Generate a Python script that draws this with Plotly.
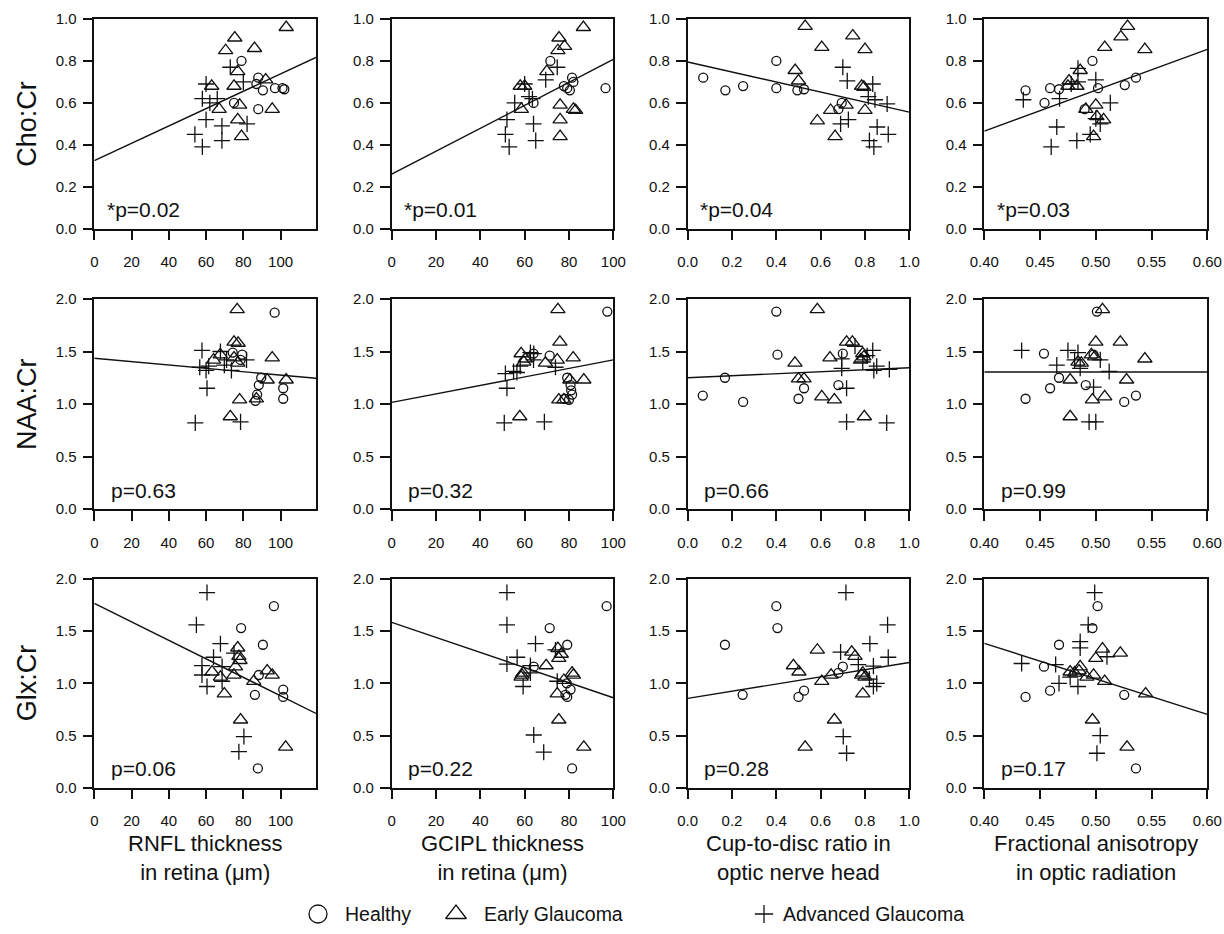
import plotly.graph_objects as go

# ---------------- data ----------------
ROW_NAMES = ["Cho:Cr", "NAA:Cr", "Glx:Cr"]
COL_TITLES = ["RNFL thickness<br>in retina (μm)", "GCIPL thickness<br>in retina (μm)",
              "Cup-to-disc ratio in<br>optic nerve head", "Fractional anisotropy<br>in optic radiation"]
GROUPS = ["Healthy", "Early Glaucoma", "Advanced Glaucoma"]
P_LABELS = [["*p=0.02", "*p=0.01", "*p=0.04", "*p=0.03"],
            ["p=0.63", "p=0.32", "p=0.66", "p=0.99"],
            ["p=0.06", "p=0.22", "p=0.28", "p=0.17"]]
FIT_INTERCEPT = [[0.325, 0.26, 0.795, -0.315],
                 [1.435, 1.015, 1.25, 1.305],
                 [1.767, 1.585, 0.856, 2.743]]
FIT_SLOPE = [[0.00413, 0.00547, -0.239, 1.95],
             [-0.0016, 0.00405, 0.095, 0.0],
             [-0.00887, -0.00723, 0.344, -3.40]]
X_RANGES = [[0, 119], [0, 100], [0, 1.0], [0.40, 0.60]]
Y_RANGES = [[0, 1.0], [0, 2.0], [0, 2.0]]
X_TICKS = [[0, 20, 40, 60, 80, 100], [0, 20, 40, 60, 80, 100],
           [0.0, 0.2, 0.4, 0.6, 0.8, 1.0], [0.40, 0.45, 0.50, 0.55, 0.60]]
X_FORMATS = ["d", "d", ".1f", ".2f"]
Y_TICKS = [[0.0, 0.2, 0.4, 0.6, 0.8, 1.0], [0.0, 0.5, 1.0, 1.5, 2.0], [0.0, 0.5, 1.0, 1.5, 2.0]]

# Row 1: Cho:Cr
CHO_RNFL_HEALTHY = [(79, 0.80), (88, 0.72), (87, 0.69), (90.5, 0.66), (97, 0.67), (101, 0.67),
                    (102, 0.665), (88, 0.57), (75, 0.60)]
CHO_RNFL_EARLY = [(103, 0.96), (75.4, 0.91), (70.5, 0.85), (86, 0.86), (77, 0.75), (63, 0.68),
                  (75, 0.68), (92, 0.71), (67, 0.57), (78, 0.59), (95.5, 0.57), (77, 0.52), (79, 0.44)]
CHO_RNFL_ADVANCED = [(73, 0.77), (60, 0.69), (80, 0.70), (58, 0.62), (66, 0.62), (62, 0.60),
                     (60, 0.52), (68.5, 0.49), (82, 0.50), (54, 0.45), (68.5, 0.42), (58, 0.39)]

CHO_GCIPL_HEALTHY = [(71.6, 0.80), (64, 0.60), (77.7, 0.68), (81.4, 0.72), (79.2, 0.67),
                     (80.4, 0.66), (82, 0.70), (96.5, 0.67)]
CHO_GCIPL_EARLY = [(86.5, 0.96), (75.5, 0.91), (78, 0.87), (75, 0.85), (70, 0.75), (58, 0.68),
                   (60, 0.68), (58.5, 0.57), (76, 0.59), (76, 0.52), (82, 0.57), (83, 0.565), (76, 0.44)]
CHO_GCIPL_ADVANCED = [(74.7, 0.77), (69.5, 0.71), (60, 0.69), (62, 0.63), (63.5, 0.62), (55.5, 0.60),
                      (52, 0.52), (64, 0.50), (51.3, 0.45), (65, 0.42), (53, 0.39)]

CHO_CDR_HEALTHY = [(0.07, 0.72), (0.17, 0.66), (0.25, 0.68), (0.40, 0.80), (0.40, 0.67),
                   (0.495, 0.66), (0.525, 0.665), (0.68, 0.57), (0.695, 0.60)]
CHO_CDR_EARLY = [(0.53, 0.965), (0.605, 0.865), (0.745, 0.92), (0.80, 0.855), (0.485, 0.755),
                 (0.50, 0.705), (0.785, 0.68), (0.795, 0.675), (0.645, 0.565), (0.715, 0.59),
                 (0.80, 0.565), (0.585, 0.515), (0.665, 0.44)]
CHO_CDR_ADVANCED = [(0.70, 0.77), (0.72, 0.705), (0.835, 0.69), (0.815, 0.63), (0.845, 0.615),
                    (0.90, 0.595), (0.725, 0.52), (0.69, 0.50), (0.855, 0.485), (0.905, 0.45),
                    (0.82, 0.42), (0.84, 0.39)]

CHO_FA_HEALTHY = [(0.437, 0.66), (0.454, 0.60), (0.459, 0.67), (0.467, 0.665), (0.497, 0.80),
                  (0.502, 0.67), (0.49, 0.57), (0.526, 0.685), (0.536, 0.72)]
CHO_FA_EARLY = [(0.5285, 0.965), (0.5225, 0.915), (0.508, 0.865), (0.544, 0.855), (0.486, 0.755),
                (0.476, 0.705), (0.475, 0.68), (0.483, 0.68), (0.50, 0.59), (0.491, 0.57),
                (0.501, 0.535), (0.507, 0.52), (0.498, 0.44)]
CHO_FA_ADVANCED = [(0.435, 0.615), (0.465, 0.485), (0.46, 0.39), (0.4675, 0.62), (0.484, 0.765),
                   (0.478, 0.69), (0.484, 0.70), (0.50, 0.71), (0.513, 0.60), (0.483, 0.42),
                   (0.495, 0.45), (0.50, 0.525), (0.504, 0.50)]

# Row 2: NAA:Cr
NAA_RNFL_HEALTHY = [(96.8, 1.87), (74.3, 1.49), (79.4, 1.47), (78.5, 1.42), (89.6, 1.25),
                    (88.3, 1.18), (87.4, 1.09), (86.5, 1.03), (101.4, 1.15), (101.4, 1.05)]
NAA_RNFL_EARLY = [(76.7, 1.90), (75, 1.59), (77.2, 1.58), (95.5, 1.44), (103, 1.23), (92.8, 1.23),
                  (78, 1.04), (87, 1.05), (73, 0.88), (64, 1.42), (67.6, 1.47), (77, 1.39), (75, 1.44)]
NAA_RNFL_ADVANCED = [(57.8, 1.51), (67.7, 1.50), (56.6, 1.35), (61.4, 1.36), (60, 1.32),
                     (69.8, 1.37), (73.6, 1.32), (81.7, 1.42), (60.5, 1.15), (54.2, 0.82),
                     (78.5, 0.83), (71, 1.42)]

NAA_GCIPL_HEALTHY = [(97.3, 1.88), (71.3, 1.46), (79.2, 1.25), (80.7, 1.18), (81.4, 1.09),
                     (80, 1.04), (78, 1.05), (64, 1.48), (81, 1.13)]
NAA_GCIPL_EARLY = [(75, 1.90), (75.9, 1.59), (58.4, 1.48), (60.3, 1.43), (59.6, 1.40), (69.4, 1.39),
                   (74.7, 1.42), (81.9, 1.44), (86.7, 1.23), (80.4, 1.23), (75.4, 1.04),
                   (77.7, 1.04), (57.8, 0.88)]
NAA_GCIPL_ADVANCED = [(51.3, 1.29), (55, 1.31), (52, 1.15), (50.8, 0.82), (68.9, 0.83),
                      (62.6, 1.49), (64.1, 1.48), (58, 1.36), (64, 1.42), (73.9, 1.35), (56.5, 1.30)]

NAA_CDR_HEALTHY = [(0.068, 1.08), (0.168, 1.25), (0.25, 1.02), (0.40, 1.88), (0.405, 1.47),
                   (0.50, 1.05), (0.525, 1.15), (0.68, 1.18), (0.70, 1.48)]
NAA_CDR_EARLY = [(0.585, 1.90), (0.484, 1.39), (0.50, 1.24), (0.525, 1.24), (0.717, 1.59),
                 (0.743, 1.59), (0.642, 1.44), (0.79, 1.48), (0.78, 1.42), (0.605, 1.07),
                 (0.662, 1.04), (0.797, 0.88), (0.795, 1.45)]
NAA_CDR_ADVANCED = [(0.695, 1.43), (0.695, 1.34), (0.717, 1.15), (0.717, 0.83), (0.898, 0.82),
                    (0.755, 1.55), (0.835, 1.51), (0.81, 1.46), (0.853, 1.36), (0.84, 1.32),
                    (0.91, 1.33), (0.79, 1.40)]

NAA_FA_HEALTHY = [(0.501, 1.88), (0.4535, 1.48), (0.437, 1.05), (0.459, 1.15), (0.467, 1.25),
                  (0.491, 1.18), (0.498, 1.47), (0.5255, 1.02), (0.536, 1.08)]
NAA_FA_EARLY = [(0.506, 1.90), (0.50, 1.59), (0.522, 1.59), (0.544, 1.43), (0.5276, 1.23),
                (0.477, 1.23), (0.497, 1.04), (0.508, 1.07), (0.477, 0.88), (0.484, 1.40),
                (0.487, 1.39), (0.496, 1.47), (0.499, 1.45)]
NAA_FA_ADVANCED = [(0.4335, 1.51), (0.475, 1.51), (0.484, 1.49), (0.465, 1.37), (0.486, 1.34),
                   (0.504, 1.42), (0.512, 1.31), (0.498, 1.16), (0.494, 0.83), (0.50, 0.83),
                   (0.481, 1.42)]

# Row 3: Glx:Cr
GLX_RNFL_HEALTHY = [(96.4, 1.74), (78.8, 1.53), (90.5, 1.37), (88.3, 1.08), (86.2, 0.89),
                    (101.4, 0.94), (101.4, 0.87), (87.8, 0.185)]
GLX_RNFL_EARLY = [(77, 1.34), (77.6, 1.26), (78.2, 1.22), (75.8, 1.16), (74.9, 1.08), (63.2, 1.11),
                  (67.7, 1.06), (69.8, 0.90), (85.6, 1.02), (92.8, 1.12), (95.5, 1.08),
                  (78.5, 0.65), (102.7, 0.39)]
GLX_RNFL_ADVANCED = [(60.5, 1.87), (54.8, 1.56), (67.7, 1.38), (64, 1.25), (57.8, 1.17),
                     (57.8, 1.08), (60.5, 0.97), (68.6, 1.16), (68.6, 1.02), (75, 1.29),
                     (80.3, 0.49), (77.6, 0.345)]

GLX_GCIPL_HEALTHY = [(97, 1.74), (71.3, 1.53), (79.2, 1.37), (64.1, 1.16), (78.4, 0.89),
                     (80.7, 0.94), (79.2, 0.87), (81.4, 0.185), (79, 1.00)]
GLX_GCIPL_EARLY = [(75, 1.335), (75.4, 1.24), (69.7, 1.17), (59.3, 1.10), (58.4, 1.06), (81.4, 1.10),
                   (82, 1.08), (77.7, 1.03), (74.7, 0.90), (75.4, 0.65), (86.7, 0.39),
                   (76.5, 1.28), (58.8, 1.08)]
GLX_GCIPL_ADVANCED = [(52, 1.87), (52, 1.56), (64.9, 1.38), (56.6, 1.25), (52, 1.185),
                      (62.6, 1.17), (59.3, 0.97), (62.6, 1.10), (64.1, 0.505), (68.6, 0.34),
                      (74.7, 1.02), (73.9, 1.32)]

GLX_CDR_HEALTHY = [(0.168, 1.37), (0.248, 0.89), (0.40, 1.74), (0.405, 1.53), (0.50, 0.87),
                   (0.525, 0.93), (0.68, 1.10), (0.70, 1.16)]
GLX_CDR_EARLY = [(0.585, 1.32), (0.477, 1.17), (0.502, 1.11), (0.605, 1.02), (0.647, 1.08),
                 (0.74, 1.30), (0.755, 1.26), (0.785, 1.08), (0.80, 1.06), (0.79, 0.90),
                 (0.662, 0.65), (0.53, 0.39), (0.79, 1.10)]
GLX_CDR_ADVANCED = [(0.714, 1.87), (0.902, 1.56), (0.822, 1.38), (0.905, 1.25), (0.69, 1.30),
                    (0.77, 1.18), (0.838, 1.165), (0.82, 1.04), (0.853, 1.00), (0.838, 0.97),
                    (0.702, 0.49), (0.717, 0.33)]

GLX_FA_HEALTHY = [(0.5016, 1.74), (0.497, 1.53), (0.467, 1.37), (0.4535, 1.16), (0.437, 0.87),
                  (0.459, 0.93), (0.5255, 0.89), (0.536, 0.185)]
GLX_FA_EARLY = [(0.506, 1.33), (0.522, 1.29), (0.50, 1.24), (0.486, 1.16), (0.477, 1.11),
                (0.481, 1.10), (0.492, 1.06), (0.498, 1.08), (0.508, 1.02), (0.5447, 0.90),
                (0.497, 0.65), (0.528, 0.39), (0.485, 1.12)]
GLX_FA_ADVANCED = [(0.499, 1.87), (0.4932, 1.56), (0.486, 1.40), (0.486, 1.34), (0.4335, 1.19),
                   (0.464, 1.18), (0.467, 1.00), (0.484, 0.97), (0.51, 1.255), (0.504, 0.50),
                   (0.501, 0.33), (0.477, 1.06)]

PANELS = [
    [(CHO_RNFL_HEALTHY, CHO_RNFL_EARLY, CHO_RNFL_ADVANCED),
     (CHO_GCIPL_HEALTHY, CHO_GCIPL_EARLY, CHO_GCIPL_ADVANCED),
     (CHO_CDR_HEALTHY, CHO_CDR_EARLY, CHO_CDR_ADVANCED),
     (CHO_FA_HEALTHY, CHO_FA_EARLY, CHO_FA_ADVANCED)],
    [(NAA_RNFL_HEALTHY, NAA_RNFL_EARLY, NAA_RNFL_ADVANCED),
     (NAA_GCIPL_HEALTHY, NAA_GCIPL_EARLY, NAA_GCIPL_ADVANCED),
     (NAA_CDR_HEALTHY, NAA_CDR_EARLY, NAA_CDR_ADVANCED),
     (NAA_FA_HEALTHY, NAA_FA_EARLY, NAA_FA_ADVANCED)],
    [(GLX_RNFL_HEALTHY, GLX_RNFL_EARLY, GLX_RNFL_ADVANCED),
     (GLX_GCIPL_HEALTHY, GLX_GCIPL_EARLY, GLX_GCIPL_ADVANCED),
     (GLX_CDR_HEALTHY, GLX_CDR_EARLY, GLX_CDR_ADVANCED),
     (GLX_FA_HEALTHY, GLX_FA_EARLY, GLX_FA_ADVANCED)],
]

# ---------------- layout / style ----------------
W, H = 1224, 934
FONT = "Arial, Liberation Sans, sans-serif"
INK = "#111111"
COL_PX = [(94.3, 316.0), (391.7, 613.3), (687.7, 909.3), (984.3, 1207.3)]
ROW_PX = [(19.0, 228.7), (299.0, 509.0), (579.0, 787.7)]
SYMBOLS = ["circle-open", "triangle-up-open", "cross-thin-open"]
SIZES = [9, 12.5, 11.5]
LEGEND_SIZES = [18, 18, 13]
LEGEND_SYMBOL_X = [318, 456, 764]
LEGEND_TEXT_X = [343, 482, 781]

fig = go.Figure()
layout = dict(width=W, height=H, autosize=False, margin=dict(l=0, r=0, t=0, b=0, pad=0),
              paper_bgcolor="white", plot_bgcolor="white", showlegend=False,
              template="none",
              font=dict(family=FONT, color=INK), annotations=[])

for r in range(3):
    for c in range(4):
        k = r * 4 + c + 1
        xa = "xaxis" if k == 1 else f"xaxis{k}"
        ya = "yaxis" if k == 1 else f"yaxis{k}"
        xr = "x" if k == 1 else f"x{k}"
        yr = "y" if k == 1 else f"y{k}"
        x0, x1 = COL_PX[c]
        y0, y1 = ROW_PX[r]
        layout[xa] = dict(domain=[x0 / W, x1 / W], range=X_RANGES[c], anchor=yr,
                          tickvals=X_TICKS[c], tickformat=X_FORMATS[c], automargin=False,
                          showline=True, mirror=True, linecolor=INK, linewidth=1.5,
                          ticks="outside", ticklen=10, tickwidth=1.5, tickcolor=INK,
                          ticklabelstandoff=9, showgrid=False, zeroline=False,
                          tickfont=dict(size=15, family=FONT, color=INK), fixedrange=True)
        layout[ya] = dict(domain=[1 - y1 / H, 1 - y0 / H], range=Y_RANGES[r], anchor=xr,
                          tickvals=Y_TICKS[r], tickformat=".1f", automargin=False,
                          showline=True, mirror=True, linecolor=INK, linewidth=1.5,
                          ticks="outside", ticklen=10, tickwidth=1.5, tickcolor=INK,
                          ticklabelstandoff=3, showgrid=False, zeroline=False,
                          tickfont=dict(size=15, family=FONT, color=INK), fixedrange=True)

        for g, pts in enumerate(PANELS[r][c]):
            fig.add_trace(go.Scatter(
                x=[p[0] for p in pts], y=[p[1] for p in pts], mode="markers",
                xaxis=xr, yaxis=yr, showlegend=False, name=GROUPS[g], cliponaxis=False,
                marker=dict(symbol=SYMBOLS[g], size=SIZES[g], color=INK,
                            line=dict(color=INK, width=1.3))))

        xs = X_RANGES[c]
        fig.add_trace(go.Scatter(
            x=xs, y=[FIT_INTERCEPT[r][c] + FIT_SLOPE[r][c] * v for v in xs],
            mode="lines", xaxis=xr, yaxis=yr, showlegend=False,
            line=dict(color=INK, width=1.4), hoverinfo="skip"))

        layout["annotations"].append(dict(
            text=P_LABELS[r][c], xref=f"{xr} domain", yref=f"{yr} domain",
            x=0.22, y=0.09, xanchor="center", yanchor="middle", showarrow=False,
            font=dict(size=21, family=FONT, color=INK)))

for r in range(3):
    y0, y1 = ROW_PX[r]
    layout["annotations"].append(dict(
        text=ROW_NAMES[r], xref="paper", yref="paper", x=27 / W, y=1 - (y0 + y1) / 2 / H,
        xanchor="center", yanchor="middle", textangle=-90, showarrow=False,
        font=dict(size=27, family=FONT, color=INK)))

for c in range(4):
    x0, x1 = COL_PX[c]
    layout["annotations"].append(dict(
        text=COL_TITLES[c], xref="paper", yref="paper", x=(x0 + x1) / 2 / W, y=1 - 858 / H,
        xanchor="center", yanchor="middle", showarrow=False,
        font=dict(size=22, family=FONT, color=INK)))

# custom legend on a hidden helper axis spanning the page width
layout["xaxis13"] = dict(domain=[0, 1], range=[0, W], anchor="y13", visible=False,
                         fixedrange=True, automargin=False)
layout["yaxis13"] = dict(domain=[0, 40 / H], range=[0, 40], anchor="x13", visible=False,
                         fixedrange=True, automargin=False)
for g in range(3):
    fig.add_trace(go.Scatter(
        x=[LEGEND_SYMBOL_X[g]], y=[20], mode="markers", xaxis="x13", yaxis="y13",
        showlegend=False, hoverinfo="skip", cliponaxis=False,
        marker=dict(symbol=SYMBOLS[g], size=LEGEND_SIZES[g], color=INK,
                    line=dict(color=INK, width=1.3))))
    layout["annotations"].append(dict(
        text=GROUPS[g], xref="x13", yref="y13", x=LEGEND_TEXT_X[g], y=20,
        xanchor="left", yanchor="middle", showarrow=False,
        font=dict(size=19.5, family=FONT, color=INK)))

fig.update_layout(**layout)
fig.write_html("out.html", config={"displayModeBar": False},
               post_script="document.body.style.margin='0';document.body.style.padding='0';")
